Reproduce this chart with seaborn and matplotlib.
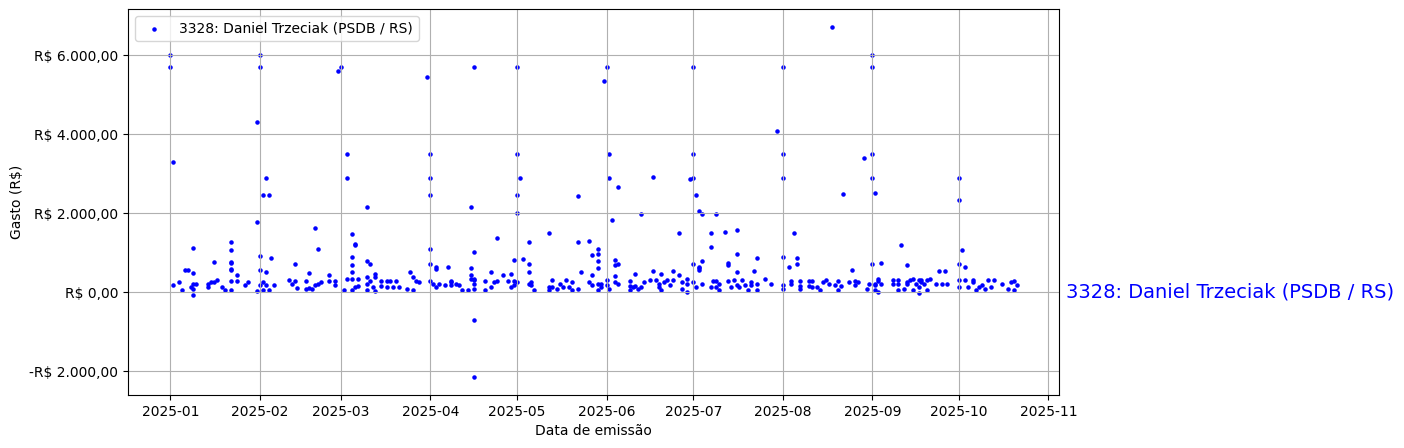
import pandas as pd
import matplotlib
matplotlib.use("Agg")
import matplotlib.pyplot as plt
import matplotlib.dates as mdates
from matplotlib.ticker import FuncFormatter, MultipleLocator
from matplotlib.transforms import blended_transform_factory
import seaborn as sns

deputado = "3328: Daniel Trzeciak (PSDB / RS)"

# gastos por dia de emissão, um dicionário por mês (dia -> valores em R$)
jan = {1: [6000, 5700], 2: [3300, 170], 4: [254], 5: [51], 6: [559], 7: [559], 8: [136],
       9: [1110, 475, 220, 76, -59], 10: [195], 14: [136, 220], 15: [254], 16: [763, 254],
       17: [305], 19: [136], 20: [51], 22: [1263, 1060, 763, 729, 593, 559, 51, 271],
       24: [424, 271], 27: [170], 28: [254], 31: [4300, 1779, 25]}
fev = {1: [6000, 5700, 170, 907, 559], 2: [254, 51, 2450], 3: [2900, 508, 170], 4: [2466, 51],
       5: [856], 6: [170], 11: [305], 12: [195], 13: [704, 271], 14: [110], 17: [280, 85],
       18: [475, 110], 19: [85], 20: [1619, 170], 21: [220, 1085], 22: [254], 25: [424, 280],
       27: [280, 170], 28: [5600]}
mar = {1: [5700], 2: [68], 3: [3500, 2900, 322], 5: [1474, 890, 695, 500, 330, 51],
       6: [1187, 1220, 119], 7: [339, 153], 10: [2160, 788, 390, 220, 51], 11: [280, 704],
       12: [136], 13: [449, 390, 25], 15: [280, 153], 17: [136, 280], 18: [280], 19: [136],
       20: [280], 21: [136], 24: [85], 25: [500], 26: [390, 68], 27: [280], 28: [254], 31: [5450]}
abr = {1: [3500, 2900, 2450, 1100, 712, 280], 2: [195], 3: [644, 136, 585], 4: [220], 6: [170],
       7: [627], 8: [280, 170, 263], 10: [220], 11: [170], 12: [68], 14: [68],
       15: [2160, 602, 322, 432], 16: [5700, 220, 85, 330, 1009, -700, -2160, 305],
       20: [280, 51], 22: [500, 136], 23: [254], 24: [280, 1365], 26: [424], 28: [280],
       29: [449, 136], 30: [280, 813, 170]}
mai = {1: [5700, 3500, 2458, 2000, 263], 2: [2900], 3: [839], 5: [1263, 704, 500, 195],
       6: [254, 170], 7: [51], 12: [1492, 136, 68], 13: [136, 305], 15: [85], 16: [220],
       17: [136], 18: [305], 19: [136], 20: [254, 68], 22: [2432, 1263, 85], 23: [500],
       26: [1296, 254], 27: [940, 424, 170], 29: [1093, 958, 788, 602, 68, 220],
       30: [220, 119], 31: [5350]}
jun = {1: [5700, 305, 170], 2: [3500, 2900, 85], 3: [1822], 4: [805, 686, 415, 254],
       5: [2661, 704, 220], 9: [280, 153, 51], 10: [119], 11: [449, 153], 12: [85],
       13: [1983, 136], 14: [254], 16: [305], 17: [2915, 525], 18: [305], 19: [203, 136],
       20: [449, 51], 21: [254], 22: [305], 23: [170], 24: [525, 305], 26: [1492, 424],
       27: [254, 93], 29: [322, 220, 17], 30: [2865]}
jul = {1: [5700, 3500, 2900, 704, 263], 2: [2458, 136], 3: [2059, 602, 559, 627],
       4: [1975, 788, 220], 7: [1492, 1136, 136], 8: [280], 9: [1975, 280, 136], 10: [51, 195],
       12: [1517], 13: [280, 729, 700], 14: [136], 15: [305], 16: [1568, 958, 500, 170],
       17: [136], 18: [305], 19: [170], 20: [51], 21: [170, 254], 22: [526], 23: [856, 195, 51],
       26: [322], 28: [220], 30: [4080]}
ago = {1: [5700, 3500, 2900, 881, 170, 85], 3: [628], 4: [280, 220], 5: [1492], 6: [856, 704],
       7: [85, 280, 153], 10: [153, 280], 11: [280, 119], 13: [136], 14: [68], 15: [254],
       16: [305], 17: [220], 18: [6730], 19: [170], 20: [280, 51], 21: [153], 22: [2500],
       24: [254], 25: [551], 26: [280, 170], 27: [254], 29: [3400], 30: [85], 31: [195]}
set_ = {1: [6000, 5700, 3500, 2900, 704], 2: [2508, 170, 51, 220], 3: [339, 280, 0],
        4: [729, 220], 8: [305, 195], 10: [68, 305, 220], 11: [1187], 12: [85],
        13: [678, 254, 195], 14: [305], 15: [322, 51], 16: [220], 17: [305, 136, -17],
        18: [254, 305], 19: [195], 20: [305, 51], 21: [322], 23: [195], 24: [525], 25: [220],
        26: [525], 27: [195]}
out = {1: [305, 2900, 2330, 704, 119], 2: [1068], 3: [635, 305], 4: [136], 6: [305, 254],
       7: [51], 8: [136], 9: [170], 10: [85], 11: [305], 12: [119], 13: [305], 16: [220],
       18: [85], 19: [254], 20: [280, 51], 21: [170]}

meses = [jan, fev, mar, abr, mai, jun, jul, ago, set_, out]

linhas = []
for m, mes in enumerate(meses, start=1):
    for dia, valores in mes.items():
        for v in valores:
            linhas.append((pd.Timestamp(2025, m, dia), v))
df = pd.DataFrame(linhas, columns=["Data de emissão", "Gasto"])


def formata_real(v, pos=None):
    s = f"{abs(v):,.2f}".replace(",", "X").replace(".", ",").replace("X", ".")
    return ("-R$ " if v < 0 else "R$ ") + s


fig = plt.figure(figsize=(14.04, 4.48), dpi=100)
ax = fig.add_axes([0.0912, 0.1183, 0.6631, 0.8616])

sns.scatterplot(data=df, x="Data de emissão", y="Gasto", color="blue", s=5,
                edgecolor="blue", linewidth=1, label=deputado, ax=ax)

ax.grid(True)
ax.yaxis.set_major_locator(MultipleLocator(2000))
ax.yaxis.set_major_formatter(FuncFormatter(formata_real))
ax.xaxis.set_major_locator(mdates.MonthLocator())
ax.xaxis.set_major_formatter(mdates.DateFormatter("%Y-%m"))
ax.set_xlabel("Data de emissão")
ax.set_ylabel("Gasto (R$)")
ax.legend(loc="upper left")

trans = blended_transform_factory(ax.transAxes, ax.transData)
ax.text(1.008, 0, deputado, transform=trans, color="blue", fontsize=14, va="center")

fig.savefig("out.png", dpi=100)
